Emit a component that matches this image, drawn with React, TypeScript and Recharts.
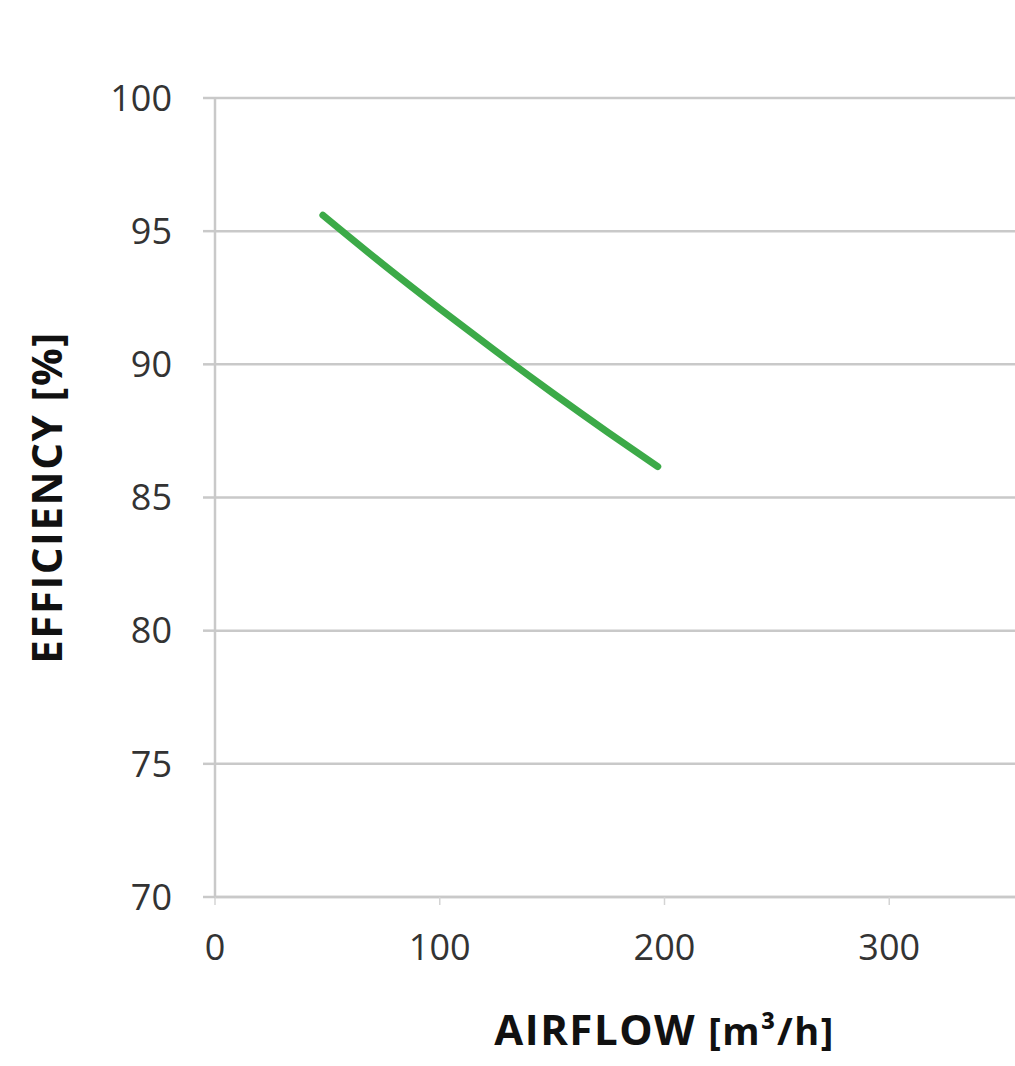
import React from "react";
import { LineChart, Line, XAxis, YAxis, CartesianGrid, Label } from "recharts";

const airflow = [48, 75, 100, 125, 150, 175, 197];
const efficiency = [95.6, 93.74, 92.09, 90.49, 88.94, 87.44, 86.16];
const xTicks = [0, 100, 200, 300];
const yTicks = [70, 75, 80, 85, 90, 95, 100];
const xTitle = "AIRFLOW";
const xUnit = "[m³/h]";
const yTitle = "EFFICIENCY [%]";

const data = airflow.map((x, i) => ({ x, y: efficiency[i] }));

const FONT = "'Open Sans', 'DejaVu Sans', sans-serif";
const GRID = "#c9c9c9";

const XTitle = (props: any) => {
  const vb = props.viewBox || {};
  const cx = vb.x + vb.width / 2;
  const by = vb.y + vb.height - 21;
  return (
    <text x={cx} y={by} textAnchor="middle" fontFamily={FONT} fontWeight={700} fontSize={42} letterSpacing={1.5} fill="#111">
      {xTitle}
      <tspan fontSize={38} dx={12}>{xUnit}</tspan>
    </text>
  );
};

const YTitle = (props: any) => {
  const vb = props.viewBox || {};
  const cx = vb.x + 45;
  const cy = vb.y + vb.height / 2;
  return (
    <text
      x={cx}
      y={cy}
      transform={`rotate(-90 ${cx} ${cy})`}
      textAnchor="middle"
      dominantBaseline="central"
      fontFamily={FONT}
      fontWeight={700}
      fontSize={42}
      letterSpacing={1.5}
      fill="#111"
    >
      {yTitle}
    </text>
  );
};

export default function App() {
  return (
    <div style={{ position: "absolute", left: 0, top: 0, width: 1015, height: 1066, overflow: "hidden", background: "#fff" }}>
      <LineChart width={1130} height={1066} data={data} margin={{ top: 98, right: 16, bottom: 0, left: 0 }}>
        <CartesianGrid horizontal vertical={false} stroke={GRID} strokeWidth={2.5} />
        <XAxis
          dataKey="x"
          type="number"
          domain={[0, 400]}
          ticks={xTicks}
          height={169}
          tickSize={8}
          tickMargin={29}
          axisLine={{ stroke: GRID, strokeWidth: 2.5 }}
          tickLine={{ stroke: "#d4d4d4", strokeWidth: 1.5 }}
          tick={{ fontFamily: FONT, fontSize: 36, fill: "#333" }}
          interval={0}
        >
          <Label content={XTitle} />
        </XAxis>
        <YAxis
          type="number"
          domain={[70, 100]}
          ticks={yTicks}
          width={215}
          tickSize={12}
          tickMargin={31}
          axisLine={{ stroke: GRID, strokeWidth: 2.5 }}
          tickLine={{ stroke: GRID, strokeWidth: 2.5 }}
          tick={{ fontFamily: FONT, fontSize: 36, fill: "#333" }}
          interval={0}
        >
          <Label content={YTitle} />
        </YAxis>
        <Line
          dataKey="y"
          type="monotone"
          stroke="#3caa48"
          strokeWidth={7}
          strokeLinecap="round"
          dot={false}
          activeDot={false}
          isAnimationActive={false}
        />
      </LineChart>
    </div>
  );
}
